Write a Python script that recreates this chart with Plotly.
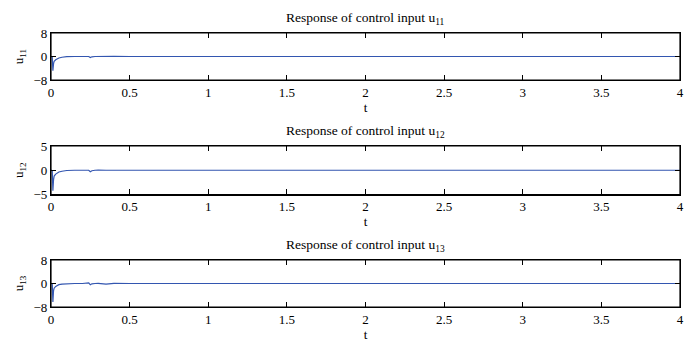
import plotly.graph_objects as go

t = [0, 0.004, 0.008, 0.012, 0.016, 0.02, 0.03, 0.04, 0.05, 0.07, 0.1, 0.15, 0.2, 0.24, 0.25, 0.26, 0.28, 0.3, 0.35, 0.4, 0.5, 1.0, 1.5, 2.0, 2.5, 3.0, 3.5, 4.0]
u11 = [0, 0, -0.3, -4.8, -2.5, -1.6, -1.1, -0.7, -0.5, -0.25, -0.05, 0.0, 0.0, 0.0, -0.35, -0.1, 0.0, 0.05, 0.0, 0.05, 0.0, 0.0, 0.0, 0.0, 0.0, 0.0, 0.0, 0.0]
u12 = [0, 0, -0.2, -4.2, -2.0, -1.2, -0.8, -0.5, -0.35, -0.2, -0.05, 0.0, 0.0, 0.0, -0.3, -0.1, 0.0, 0.05, 0.0, 0.05, 0.0, 0.0, 0.0, 0.0, 0.0, 0.0, 0.0, 0.0]
u13 = [0, 0, -0.3, -6.3, -2.5, -1.6, -1.0, -0.6, -0.4, -0.2, -0.05, 0.0, 0.0, 0.2, -0.45, -0.1, 0.0, 0.05, -0.2, 0.05, 0.0, 0.0, 0.0, 0.0, 0.0, 0.0, 0.0, 0.0]
series = [u11, u12, u13]
names = ["11", "12", "13"]
yticks = [[-8, 0, 8], [-5, 0, 5], [-8, 0, 8]]
xticks = [0, 0.5, 1, 1.5, 2, 2.5, 3, 3.5, 4]
xticklabels = ["0", "0.5", "1", "1.5", "2", "2.5", "3", "3.5", "4"]

W, H = 684.0, 344.0
boxes = [(33, 80), (146, 194.5), (260, 307)]
font = "Liberation Serif, Times New Roman, serif"

fig = go.Figure()
layout = dict(
    width=W, height=H,
    margin=dict(l=51, r=4, t=0, b=0, autoexpand=False),
    paper_bgcolor="white", plot_bgcolor="white",
    showlegend=False,
    font=dict(family=font, size=13, color="black"),
)
annotations = []
shapes = []
for i, (ys, nm, yt) in enumerate(zip(series, names, yticks)):
    k = "" if i == 0 else str(i + 1)
    fig.add_trace(go.Scatter(x=t, y=ys, mode="lines", line=dict(color="#3356b0", width=1.2),
                             xaxis="x" + k, yaxis="y" + k, hoverinfo="skip"))
    top, bot = boxes[i]
    layout["xaxis" + k] = dict(
        domain=[0, 1], anchor="y" + k, range=[0, 4], tickvals=xticks, ticktext=xticklabels,
        ticks="inside", ticklen=5, tickcolor="black", showline=True, linecolor="black", linewidth=1.2,
        mirror="ticks", showgrid=False, zeroline=False, tickfont=dict(size=13), automargin=False,
        ticklabeloverflow="allow",
        title=dict(text="t", font=dict(size=13), standoff=0),
    )
    layout["yaxis" + k] = dict(
        domain=[1 - bot / H, 1 - top / H], anchor="x" + k, range=[yt[0], yt[2]], tickvals=yt,
        ticks="inside", ticklen=5, tickcolor="black", showline=True, linecolor="black", linewidth=1.2,
        mirror="ticks", showgrid=False, zeroline=False, tickfont=dict(size=13), automargin=False,
        ticklabeloverflow="allow",
        title=dict(text="u<sub>" + nm + "</sub>", font=dict(size=13), standoff=6),
    )
    shapes.append(dict(type="rect", xref="x" + k + " domain", yref="y" + k + " domain",
                       x0=0, x1=1, y0=0, y1=1, line=dict(color="black", width=1.2),
                       fillcolor="rgba(0,0,0,0)", layer="above"))
    annotations.append(dict(text="Response of control input u<sub>" + nm + "</sub>", xref="paper", yref="paper",
                            x=0.5, y=1 - (top - 4) / H, xanchor="center", yanchor="bottom", showarrow=False,
                            font=dict(size=13.5)))
layout["annotations"] = annotations
layout["shapes"] = shapes
fig.update_layout(**layout)
fig.write_html("out.html", config={"displayModeBar": False},
               post_script="document.body.style.margin='0';document.body.style.overflow='hidden';")
